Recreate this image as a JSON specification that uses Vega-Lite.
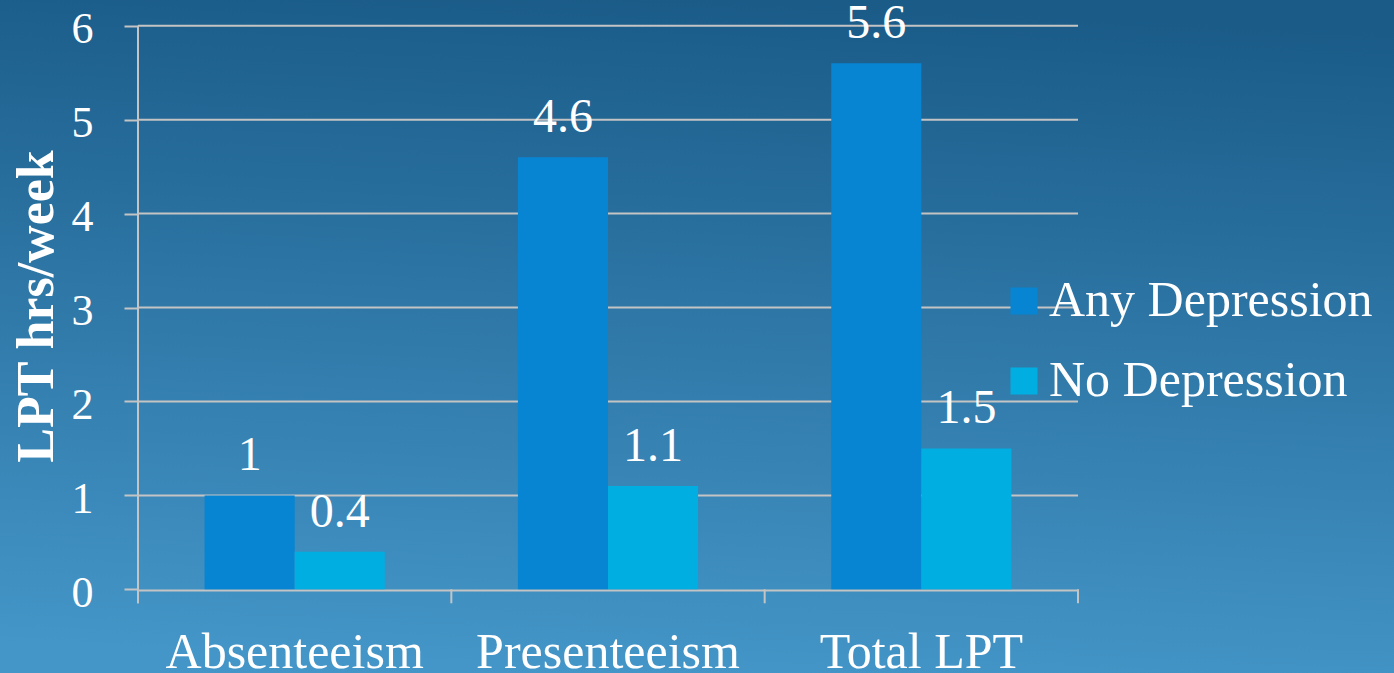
{
  "$schema": "https://vega.github.io/schema/vega-lite/v6.json",
  "width": 1394,
  "height": 673,
  "padding": 0,
  "autosize": "none",
  "background": "#2f78a9",
  "config": {
    "view": {
      "stroke": null,
      "fill": {
        "gradient": "linear",
        "x1": 0.55, "y1": 0, "x2": 0.45, "y2": 1,
        "stops": [
          {"offset": 0, "color": "#1a5b88"},
          {"offset": 1, "color": "#4496c8"}
        ]
      }
    },
    "font": "Liberation Serif"
  },
  "layer": [
    {
      "layer": [
        {
          "data": {"values": [{"v": 1}, {"v": 2}, {"v": 3}, {"v": 4}, {"v": 5}, {"v": 6}]},
          "mark": {"type": "rule", "color": "#c4c4c4", "strokeWidth": 2},
          "encoding": {
            "y": {"field": "v", "type": "quantitative", "title": "LPT hrs/week", "axis": {"format": "d"}, "scale": {"domain": [-0.891, 6.274], "zero": false, "nice": false}},
            "x": {"datum": 0, "type": "quantitative", "scale": {"domain": [0, 3], "range": [138, 1078], "nice": false, "zero": false}, "axis": null},
            "x2": {"datum": 3}
          }
        },
        {
          "data": {"values": [{"t": 0}, {"t": 1}, {"t": 2}, {"t": 3}]},
          "mark": {"type": "rule", "color": "#c4c4c4", "strokeWidth": 2},
          "encoding": {
            "x": {"field": "t", "type": "quantitative", "scale": {"domain": [0, 3], "range": [138, 1078], "nice": false, "zero": false}, "axis": null},
            "y": {"datum": 0, "type": "quantitative", "title": "LPT hrs/week", "axis": {"format": "d"}},
            "y2": {"datum": -0.149}
          }
        },
        {
          "data": {"values": [{"line": "y axis"}]},
          "mark": {"type": "rule", "color": "#c4c4c4", "strokeWidth": 2},
          "encoding": {
            "x": {"datum": 0, "type": "quantitative", "scale": {"domain": [0, 3], "range": [138, 1078], "nice": false, "zero": false}, "axis": null},
            "y": {"datum": -0.149, "type": "quantitative", "title": "LPT hrs/week", "axis": {"format": "d"}},
            "y2": {"datum": 6}
          }
        }
      ]
    },
    {
      "data": {
        "values": [
          {"category": "Absenteeism", "group": "Any Depression", "value": 1},
          {"category": "Absenteeism", "group": "No Depression", "value": 0.4},
          {"category": "Presenteeism", "group": "Any Depression", "value": 4.6},
          {"category": "Presenteeism", "group": "No Depression", "value": 1.1},
          {"category": "Total LPT", "group": "Any Depression", "value": 5.6},
          {"category": "Total LPT", "group": "No Depression", "value": 1.5}
        ]
      },
      "encoding": {
        "x": {
          "field": "category", "type": "nominal", "sort": null,
          "scale": {"range": [138, 1078], "paddingInner": 0.425, "paddingOuter": 0.2125},
          "axis": {
            "title": null, "orient": "bottom", "offset": -83,
            "domain": true, "domainColor": "#c4c4c4", "domainWidth": 2,
            "ticks": false, "tickSize": 0,
            "labelAngle": 0, "labelFont": "Liberation Serif", "labelFontSize": 50,
            "labelColor": "white", "labelPadding": 77, "labelBaseline": "alphabetic",
            "labelLimit": 500
          }
        },
        "xOffset": {"field": "group", "type": "nominal", "sort": null},
        "y": {
          "field": "value", "type": "quantitative",
          "scale": {"domain": [-0.891, 6.274], "zero": false, "nice": false},
          "axis": {
            "title": "LPT hrs/week", "orient": "left", "offset": -138, "values": [0, 1, 2, 3, 4, 5, 6],
            "format": "d",
            "domain": false, "grid": false,
            "ticks": true, "tickSize": 14, "tickColor": "#c4c4c4", "tickWidth": 2,
            "labelFont": "Liberation Serif", "labelFontSize": 44, "labelColor": "white",
            "labelPadding": 31, "labelBaseline": "middle", "labelOffset": 4,
            "titleFont": "Liberation Serif", "titleFontSize": 52, "titleFontWeight": "bold",
            "titleColor": "white", "titleX": -86, "titleY": 306, "titleAngle": -90,
            "titleAlign": "center", "titleBaseline": "alphabetic"
          }
        }
      },
      "layer": [
        {
          "mark": {"type": "bar"},
          "encoding": {
            "color": {
              "field": "group", "type": "nominal", "sort": null,
              "scale": {"domain": ["Any Depression", "No Depression"], "range": ["#0784d2", "#00aee1"]},
              "legend": {
                "orient": "none", "legendX": 999, "legendY": 276,
                "title": null, "symbolType": "square", "symbolSize": 729,
                "symbolStrokeWidth": 0, "symbolOpacity": 1,
                "labelFont": "Liberation Serif", "labelFontSize": 50, "labelColor": "white",
                "labelOffset": 0, "rowPadding": 30, "padding": 0, "labelLimit": 400
              }
            }
          }
        },
        {
          "mark": {"type": "text", "color": "white", "font": "Liberation Serif", "fontSize": 48, "baseline": "alphabetic", "align": "center", "dy": -25},
          "encoding": {
            "text": {"field": "value", "type": "quantitative"}
          }
        }
      ]
    }
  ],
  "resolve": {"scale": {"x": "independent"}}
}
